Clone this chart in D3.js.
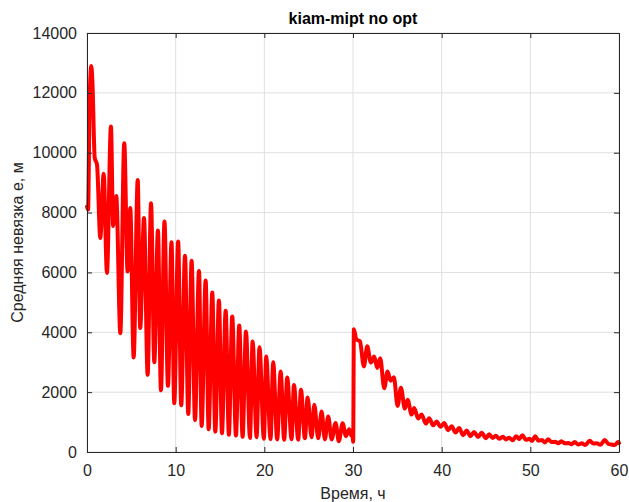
<!DOCTYPE html>
<html>
<head>
<meta charset="utf-8">
<script src="https://cdn.jsdelivr.net/npm/d3@7"></script>
<style>
    body { margin: 0; background: #fff; }
    svg text { font-family: "Liberation Sans", Arial, sans-serif; fill: #262626; }
</style>
</head>
<body>
<div id="chart"></div>
<script>
// time, hours
var timeHours = [
    0.00, 0.12, 0.30, 0.49, 0.62, 0.87, 1.13, 1.50, 1.88, 2.25,
    2.70, 2.95, 3.30, 3.76, 4.20, 4.58, 4.88, 5.26, 5.72, 6.00,
    6.43, 6.84, 7.22, 7.59, 8.00, 8.34, 8.74, 9.13, 9.53, 9.84,
    10.28, 10.63, 11.05, 11.42, 11.80, 12.18, 12.63, 12.93, 13.38, 13.72,
    14.13, 14.47, 14.88, 15.22, 15.64, 16.00, 16.38, 16.80, 17.17, 17.55,
    17.93, 18.38, 18.68, 19.13, 19.45, 19.95, 20.21, 20.70, 21.00, 21.45,
    21.84, 22.24, 22.58, 23.07, 23.34, 23.82, 24.13, 24.58, 24.88, 25.33,
    25.63, 26.08, 26.46, 26.83, 27.20, 27.59, 28.04, 28.40, 28.83, 29.20,
    29.57, 29.83, 29.93, 30.02, 30.10, 30.38, 30.78, 31.23, 31.60, 32.02,
    32.39, 32.73, 33.07, 33.52, 33.90, 34.24, 34.61, 35.03, 35.40, 35.85,
    36.16, 36.61, 36.90, 37.35, 37.73, 38.22, 38.59, 39.04, 39.43, 39.88,
    40.28, 40.73, 41.12, 41.57, 41.97, 42.42, 42.81, 43.26, 43.66, 44.11,
    44.50, 45.00, 45.36, 45.75, 46.10, 46.50, 46.90, 47.25, 47.60, 48.00,
    48.40, 48.75, 49.10, 49.50, 49.90, 50.20, 50.55, 50.90, 51.30, 51.65,
    52.00, 52.40, 52.80, 53.15, 53.50, 53.90, 54.30, 54.65, 55.00, 55.40,
    55.80, 56.20, 56.70, 57.10, 57.50, 57.90, 58.40, 58.80, 59.15, 59.50,
    59.90, 60.00
];
// mean error e, m
var errorMeters = [
    8200, 8100, 11800, 12900, 12300, 9830, 9600, 7150, 9300, 5980,
    10880, 7550, 8550, 3970, 10320, 6030, 8150, 3160, 9090, 4140,
    7820, 2580, 8310, 3000, 7400, 2060, 7700, 2210, 7010, 1630,
    7030, 1560, 6560, 1270, 6390, 1070, 6050, 870, 5730, 760,
    5330, 680, 5060, 630, 4720, 580, 4530, 550, 4230, 510,
    4030, 470, 3690, 490, 3500, 440, 3190, 430, 3000, 420,
    2690, 410, 2490, 430, 2240, 410, 2080, 460, 1820, 490,
    1580, 460, 1350, 420, 1190, 420, 970, 360, 960, 530,
    760, 540, 640, 340, 4100, 3760, 3700, 2860, 3530, 2990,
    3190, 2810, 3130, 2130, 2690, 2380, 2500, 1540, 2150, 1450,
    1750, 1250, 1470, 1120, 1250, 950, 1130, 890, 1020, 840,
    970, 730, 860, 650, 800, 560, 720, 530, 670, 500,
    640, 460, 590, 470, 540, 440, 510, 420, 480, 390,
    530, 430, 560, 410, 440, 370, 530, 380, 400, 320,
    430, 330, 340, 290, 360, 290, 300, 260, 330, 250,
    290, 230, 380, 280, 290, 240, 400, 270, 250, 230,
    330, 300
];
var xTicks = [0, 10, 20, 30, 40, 50, 60];
var yTicks = [0, 2000, 4000, 6000, 8000, 10000, 12000, 14000];

var margin = {top: 33, right: 10, bottom: 50, left: 87};
var width = 629 - margin.left - margin.right;
var height = 502 - margin.top - margin.bottom;

var svg = d3.select('#chart').append('svg')
    .attr('width', 629)
    .attr('height', 502);
var g = svg.append('g').attr('transform', 'translate(' + margin.left + ',' + margin.top + ')');

var x = d3.scaleLinear().domain([0, 60]).range([0, width]);
var y = d3.scaleLinear().domain([0, 14000]).range([height, 0]);

// grid
g.append('g').selectAll('line').data(xTicks).enter().append('line')
    .attr('x1', function (d) { return x(d); })
    .attr('x2', function (d) { return x(d); })
    .attr('y1', 0).attr('y2', height)
    .attr('stroke', '#dfdfdf').attr('stroke-width', 1);
g.append('g').selectAll('line').data(yTicks).enter().append('line')
    .attr('y1', function (d) { return y(d); })
    .attr('y2', function (d) { return y(d); })
    .attr('x1', 0).attr('x2', width)
    .attr('stroke', '#dfdfdf').attr('stroke-width', 1);

// data line
var points = timeHours.map(function (t, i) { return [t, errorMeters[i]]; });
var line = d3.line()
    .x(function (d) { return x(d[0]); })
    .y(function (d) { return y(d[1]); })
    .curve(d3.curveMonotoneX);
g.append('path')
    .datum(points)
    .attr('fill', 'none')
    .attr('stroke', '#ff0000')
    .attr('stroke-width', 4)
    .attr('stroke-linejoin', 'round')
    .attr('stroke-linecap', 'round')
    .attr('d', line);

// axes (ticks inside, box on)
var fmt = d3.format('d');
g.append('g').attr('transform', 'translate(0,' + height + ')')
    .call(d3.axisBottom(x).tickValues(xTicks).tickFormat(fmt).tickSizeInner(-5).tickSizeOuter(0).tickPadding(13));
g.append('g')
    .call(d3.axisLeft(y).tickValues(yTicks).tickFormat(fmt).tickSizeInner(-5).tickSizeOuter(0).tickPadding(10));
g.append('g')
    .call(d3.axisTop(x).tickValues(xTicks).tickSizeInner(-5).tickSizeOuter(0).tickFormat(''));
g.append('g').attr('transform', 'translate(' + width + ',0)')
    .call(d3.axisRight(y).tickValues(yTicks).tickSizeInner(-5).tickSizeOuter(0).tickFormat(''));
g.selectAll('.domain, .tick line').attr('stroke', '#262626');
g.selectAll('.tick text')
    .style('font-family', '"Liberation Sans", Arial, sans-serif')
    .style('font-size', '16px')
    .attr('fill', '#262626');

// labels
svg.append('text')
    .attr('x', margin.left + width / 2)
    .attr('y', 24)
    .attr('text-anchor', 'middle')
    .style('font-size', '16px')
    .style('font-weight', 'bold')
    .style('fill', '#000')
    .text('kiam-mipt no opt');
svg.append('text')
    .attr('x', margin.left + width / 2)
    .attr('y', 499)
    .attr('text-anchor', 'middle')
    .style('font-size', '16px')
    .text('Время, ч');
svg.append('text')
    .attr('transform', 'translate(23,' + (margin.top + height / 2) + ') rotate(-90)')
    .attr('text-anchor', 'middle')
    .style('font-size', '16px')
    .text('Средняя невязка e, м');
</script>
</body>
</html>
